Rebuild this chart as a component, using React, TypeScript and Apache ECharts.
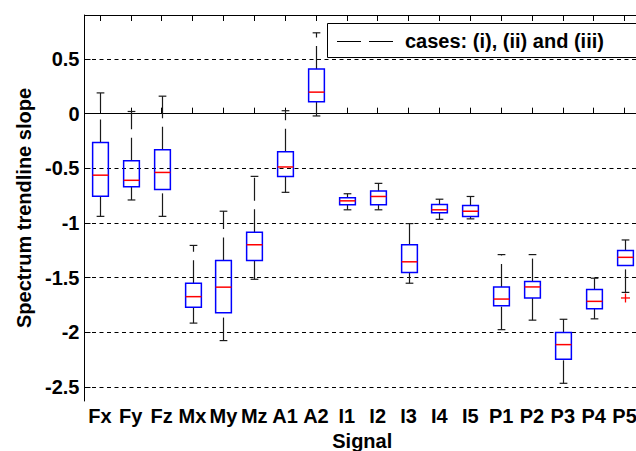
import React, { useEffect, useRef } from "react";
import * as echarts from "echarts";

const categories = ["Fx", "Fy", "Fz", "Mx", "My", "Mz", "A1", "A2", "I1", "I2", "I3", "I4", "I5", "P1", "P2", "P3", "P4", "P5"];
const whiskerLow = [-0.94, -0.79, -0.94, -1.917, -2.077, -1.516, -0.72, -0.021, -0.88, -0.88, -1.552, -0.967, -0.963, -1.977, -1.89, -2.468, -1.878, -1.636];
const q1 = [-0.755, -0.67, -0.695, -1.772, -1.822, -1.344, -0.576, 0.109, -0.834, -0.834, -1.454, -0.908, -0.942, -1.759, -1.687, -2.247, -1.786, -1.389];
const median = [-0.563, -0.61, -0.538, -1.675, -1.588, -1.2, -0.488, 0.197, -0.798, -0.758, -1.356, -0.88, -0.893, -1.697, -1.586, -2.114, -1.718, -1.315];
const q3 = [-0.265, -0.432, -0.33, -1.552, -1.344, -1.086, -0.348, 0.409, -0.77, -0.709, -1.2, -0.832, -0.841, -1.586, -1.537, -2.003, -1.61, -1.253];
const whiskerHigh = [0.19, 0.02, 0.16, -1.206, -0.893, -0.574, 0.027, 0.74, -0.733, -0.638, -1.006, -0.783, -0.758, -1.29, -1.29, -1.882, -1.506, -1.156];
const outlierCategories = ["P5"];
const outlierValues = [-1.687];
const yTicks = [-2.5, -2, -1.5, -1, -0.5, 0, 0.5];
const legendText = "cases: (i), (ii) and (iii)";

const FONT = "'Liberation Sans', Arial, Helvetica, sans-serif";

export default function App() {
  const ref = useRef<HTMLDivElement>(null);
  useEffect(() => {
    if (!ref.current) return;
    const chart = echarts.init(ref.current, null, { renderer: "svg" });
    const boxData = categories.map((_, i) => [i, whiskerLow[i], q1[i], median[i], q3[i], whiskerHigh[i]]);
    const outData = outlierCategories.map((c, i) => [categories.indexOf(c), outlierValues[i]]);
    const textStyle = { fontFamily: FONT, fontSize: 20, fontWeight: "bold" as const, color: "#000" };
    const option: any = {
      animation: false,
      backgroundColor: "#fff",
      grid: { left: 84.5, top: 15, right: -4, bottom: 50, containLabel: false, outerBoundsMode: "none" },
      xAxis: [
        {
          type: "category",
          data: categories,
          position: "bottom",
          name: "Signal",
          nameLocation: "middle",
          nameGap: 27,
          nameTextStyle: textStyle,
          axisLine: { show: true, lineStyle: { color: "#000", width: 1 } },
          axisTick: { show: true, inside: true, length: 6, alignWithLabel: true, lineStyle: { color: "#000" } },
          axisLabel: { ...textStyle, margin: 5, interval: 0 },
          splitLine: { show: false },
        },
        {
          type: "category",
          data: categories,
          position: "top",
          axisLine: { show: true, lineStyle: { color: "#000", width: 1 } },
          axisTick: { show: true, inside: true, length: 6, alignWithLabel: true, lineStyle: { color: "#000" } },
          axisLabel: { show: false },
          splitLine: { show: false },
        },
      ],
      yAxis: {
        type: "value",
        min: -2.63,
        max: 0.903,
        name: "Spectrum trendline slope",
        nameLocation: "middle",
        nameGap: 50,
        nameTextStyle: textStyle,
        axisLine: { show: true, lineStyle: { color: "#000", width: 1 } },
        axisTick: { show: true, inside: true, length: 6, customValues: yTicks, lineStyle: { color: "#000" } },
        axisLabel: { ...textStyle, margin: 5, customValues: yTicks, formatter: (v: number) => String(v) },
        splitLine: { show: true, lineStyle: { color: "#000", width: 1, type: [4, 3.5] } },
      },
      graphic: [
        {
          type: "rect",
          shape: { x: 327.5, y: 23.5, width: 400, height: 34 },
          style: { fill: "#fff", stroke: "#000", lineWidth: 1 },
          z: 100,
        },
        {
          type: "line",
          shape: { x1: 337, y1: 41.5, x2: 393, y2: 41.5 },
          style: { stroke: "#000", lineWidth: 1, lineDash: [24, 8] },
          z: 101,
        },
        {
          type: "text",
          x: 405,
          y: 41,
          style: { text: legendText, font: `bold 20px ${FONT}`, fill: "#000", verticalAlign: "middle", align: "left" },
          z: 101,
        },
      ],
      series: [
        {
          type: "custom",
          xAxisIndex: 0,
          data: boxData,
          encode: { x: 0, y: [1, 2, 3, 4, 5] },
          clip: false,
          renderItem: (params: any, api: any) => {
            const idx = api.value(0);
            const band = api.size([1, 0])[0];
            const c = api.coord([idx, api.value(3)]);
            const cx = Math.round(c[0]) + 0.5;
            const yLo = api.coord([idx, api.value(1)])[1];
            const yQ1 = api.coord([idx, api.value(2)])[1];
            const yMed = api.coord([idx, api.value(3)])[1];
            const yQ3 = api.coord([idx, api.value(4)])[1];
            const yHi = api.coord([idx, api.value(5)])[1];
            const hw = band * 0.255;
            const cw = band * 0.125;
            const whisk = { stroke: "#1a1a1a", lineWidth: 1.2, lineDash: [23, 8.5] };
            const cap = { stroke: "#1a1a1a", lineWidth: 1.2 };
            return {
              type: "group",
              children: [
                { type: "line", shape: { x1: cx, y1: yLo, x2: cx, y2: yQ1 }, style: whisk },
                { type: "line", shape: { x1: cx, y1: yQ3, x2: cx, y2: yHi }, style: whisk },
                { type: "line", shape: { x1: cx - cw, y1: yLo, x2: cx + cw, y2: yLo }, style: cap },
                { type: "line", shape: { x1: cx - cw, y1: yHi, x2: cx + cw, y2: yHi }, style: cap },
                {
                  type: "rect",
                  shape: { x: cx - hw, y: yQ3, width: 2 * hw, height: yQ1 - yQ3 },
                  style: { fill: "none", stroke: "#0000ff", lineWidth: 1.5 },
                },
                { type: "line", shape: { x1: cx - hw, y1: yMed, x2: cx + hw, y2: yMed }, style: { stroke: "#ff0000", lineWidth: 1.5 } },
              ],
            };
          },
        },
        {
          type: "custom",
          xAxisIndex: 0,
          data: outData,
          encode: { x: 0, y: 1 },
          renderItem: (params: any, api: any) => {
            const p = api.coord([api.value(0), api.value(1)]);
            const cx = Math.round(p[0]) + 0.5;
            const cy = p[1];
            const s = 4.5;
            const st = { stroke: "#ff0000", lineWidth: 1.3 };
            return {
              type: "group",
              children: [
                { type: "line", shape: { x1: cx - s, y1: cy, x2: cx + s, y2: cy }, style: st },
                { type: "line", shape: { x1: cx, y1: cy - s, x2: cx, y2: cy + s }, style: st },
              ],
            };
          },
        },
      ],
    };
    chart.setOption(option);
    return () => chart.dispose();
  }, []);
  return <div ref={ref} style={{ position: "fixed", left: 0, top: 0, width: 636, height: 451 }} />;
}
